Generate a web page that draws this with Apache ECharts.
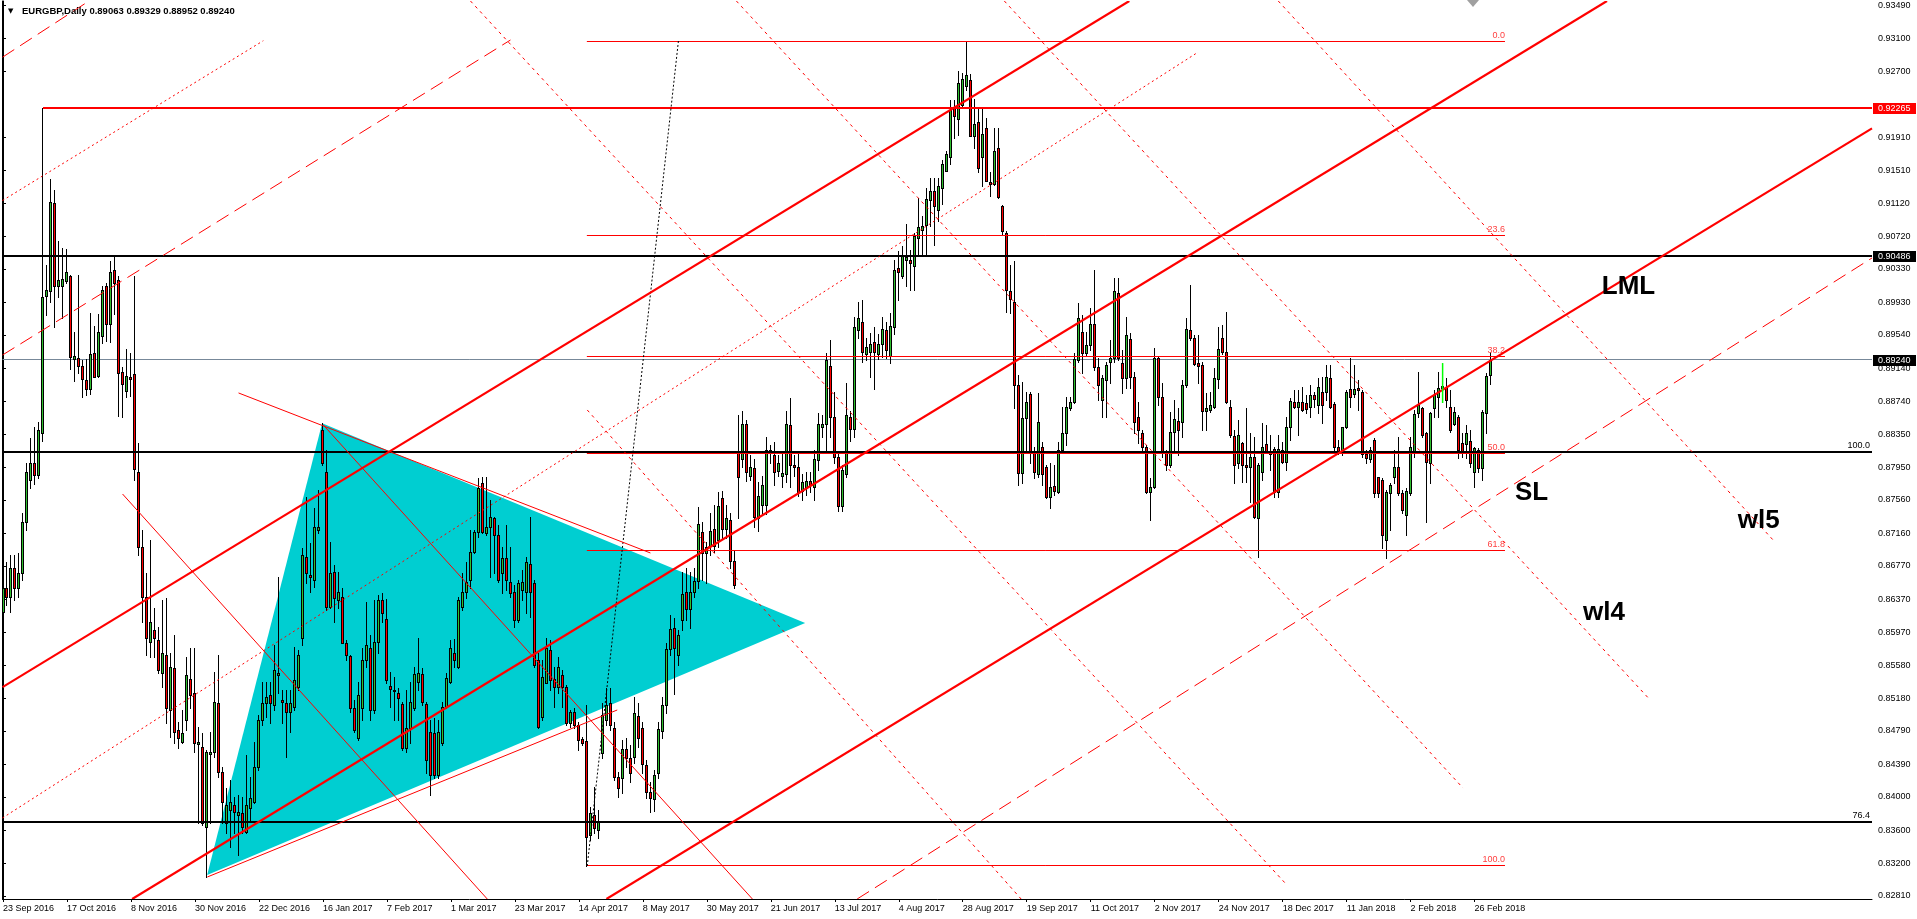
<!DOCTYPE html>
<html><head><meta charset="utf-8">
<script src="https://cdn.jsdelivr.net/npm/echarts@6/dist/echarts.min.js"></script>
<style>html,body{margin:0;padding:0;background:#fff;overflow:hidden}#c{width:1917px;height:919px}</style>
</head><body><div id="c"></div><script>
// ---------- data ----------
const symbol = 'EURGBP', timeframe = 'Daily';
const opens = [
.8622,.8650,.8640,.8674,.8650,.8668,.8730,.8780,.8800,.8786,
.8836,.9000,.9006,.9112,.9012,.9012,.9018,.9024,.8925,.8926,
.8917,.8900,.8889,.8932,.8905,.8953,.9013,.8967,.9032,.9020,
.8909,.8887,.8903,.8907,.8789,.8700,.8640,.8586,.8600,.8588,
.8548,.8570,.8504,.8554,.8480,.8466,.8492,.8541,.8524,.8463,
.8460,.8364,.8451,.8454,.8512,.8430,.8368,.8384,.8390,.8378,
.8380,.8358,.8386,.8394,.8436,.8492,.8512,.8522,.8510,.8546,
.8516,.8512,.8502,.8508,.8532,.8590,.8688,.8666,.8660,.8720,
.8840,.8790,.8628,.8669,.8636,.8640,.8585,.8569,.8506,.8470,
.8506,.8564,.8578,.8504,.8586,.8636,.8613,.8533,.8528,.8524,
.8511,.8458,.8482,.8506,.8538,.8547,.8511,.8478,.8477,.8426,
.8464,.8508,.8538,.8573,.8556,.8628,.8646,.8660,.8694,.8718,
.8776,.8716,.8724,.8734,.8714,.8668,.8686,.8658,.8646,.8612,
.8648,.8646,.8679,.8656,.8564,.8496,.8536,.8576,.8541,.8532,
.8546,.8532,.8488,.8502,.8486,.8469,.8467,.8354,.8378,.8360,
.8452,.8492,.8512,.8482,.8424,.8423,.8457,.8446,.8448,.8497,
.8483,.8438,.8406,.8397,.8428,.8479,.8510,.8577,.8603,.8570,
.8612,.8645,.8625,.8645,.8659,.8717,.8692,.8701,.8721,.8708,
.8758,.8721,.8732,.8683,.8814,.8805,.8847,.8785,.8794,.8734,
.8750,.8750,.8816,.8810,.8791,.8785,.8787,.8846,.8798,.8795,
.8767,.8772,.8779,.8772,.8804,.8843,.8847,.8917,.8856,.8807,
.8749,.8787,.8856,.8841,.8960,.8969,.8931,.8934,.8945,.8931,
.8943,.8960,.8929,.8963,.9034,.9024,.9044,.9044,.9037,.9070,
.9080,.9086,.9116,.9127,.9104,.9130,.9151,.9167,.9227,.9213,
.9230,.9252,.9260,.9193,.9209,.9167,.9202,.9137,.9135,.9178,
.9108,.9076,.9007,.8994,.8894,.8788,.8854,.8883,.8812,.8787,
.8819,.8795,.8760,.8773,.8766,.8816,.8836,.8866,.8874,.8924,
.8958,.8932,.8942,.8967,.8916,.8876,.8900,.8922,.8926,.9004,
.8920,.8902,.8949,.8904,.8856,.8836,.8820,.8765,.8772,.8926,
.8880,.8813,.8798,.8838,.8851,.8849,.8894,.8960,.8950,.8920,
.8918,.8863,.8864,.8867,.8901,.8950,.8933,.8868,.8833,.8800,
.8824,.8798,.8796,.8808,.8734,.8789,.8823,.8811,.8817,.8766,
.8816,.8802,.8844,.8874,.8868,.8873,.8872,.8868,.8882,.8870,
.8886,.8886,.8902,.8871,.8819,.8812,.8843,.8889,.8883,.8890,
.8886,.8811,.8805,.8828,.8783,.8780,.8708,.8764,.8784,.8795,
.8764,.8738,.8764,.8812,.8860,.8866,.8836,.8800,.8866,.8880,
.8890,.8891,.8868,.8847,.8856,.8824,.8823,.8827,.8790,.8816,
.8794,.8860,.89063];
const highs = [
.8668,.8682,.8690,.8690,.8692,.8740,.8800,.8830,.8843,.8850,
.92265,.9038,.9141,.9128,.9066,.9058,.9057,.9026,.8957,.9026,
.8924,.8925,.8980,.8965,.8979,.9012,.9016,.9043,.9048,.9024,
.8915,.8937,.8932,.9025,.8824,.8720,.8668,.8708,.8626,.8604,
.8636,.8638,.8572,.8594,.8490,.8504,.8568,.8578,.8578,.8484,
.8476,.8456,.8478,.8550,.8570,.8436,.8410,.8420,.8400,.8402,
.8400,.8450,.8424,.8466,.8498,.8538,.8538,.8538,.8582,.8664,
.8528,.8528,.8528,.8580,.8576,.8698,.8760,.8704,.8746,.8768,
.8848,.8816,.8706,.8678,.8670,.8650,.8588,.8570,.8516,.8538,
.8578,.8634,.8594,.8636,.8642,.8644,.8637,.8550,.8544,.8530,
.8514,.8528,.8538,.8556,.8590,.8554,.8514,.8492,.8494,.8492,
.8514,.8548,.8588,.8589,.8640,.8668,.8682,.8720,.8720,.8782,
.8784,.8784,.8756,.8736,.8726,.8700,.8726,.8700,.8654,.8660,
.8672,.8688,.8736,.8660,.8572,.8564,.8590,.8588,.8556,.8568,
.8552,.8534,.8504,.8506,.8490,.8472,.8510,.8388,.8412,.8384,
.8512,.8530,.8530,.8490,.8430,.8468,.8470,.8462,.8520,.8512,
.8490,.8444,.8418,.8432,.8490,.8520,.8584,.8618,.8614,.8600,
.8670,.8674,.8670,.8674,.8748,.8730,.8706,.8740,.8750,.8766,
.8767,.8750,.8740,.8696,.8858,.8863,.8852,.8810,.8805,.8778,
.8785,.8832,.8822,.8825,.8810,.8814,.8863,.8878,.8810,.8814,
.8787,.8790,.8790,.8816,.8860,.8858,.8932,.8948,.8885,.8814,
.8798,.8896,.8863,.8976,.8994,.8996,.8950,.8956,.8963,.8955,
.8976,.8970,.8980,.9044,.9054,.9060,.9087,.9056,.9076,.9118,
.9096,.9130,.9142,.9142,.9142,.9164,.9174,.9236,.9236,.9270,
.9268,.9306,.9267,.9237,.9226,.9226,.9214,.9149,.9202,.9202,
.9110,.9078,.9038,.9042,.8906,.8898,.8886,.8886,.8820,.8884,
.8825,.8798,.8800,.8798,.8826,.8868,.8880,.8880,.8932,.8992,
.8978,.8958,.8986,.9032,.8926,.8906,.8922,.8948,.9022,.9022,
.8936,.8976,.8956,.8910,.8874,.8840,.8822,.8782,.8938,.8928,
.8896,.8816,.8862,.8876,.8866,.8900,.8974,.9014,.8954,.8954,
.8922,.8884,.8886,.8914,.8964,.8966,.8982,.8876,.8840,.8852,
.8826,.8866,.8836,.8832,.8800,.8848,.8846,.8834,.8820,.8834,
.8826,.8856,.8878,.8888,.8888,.8891,.8882,.8894,.8886,.8902,
.8904,.8918,.8918,.8874,.8828,.8844,.8888,.8926,.8918,.8900,
.8888,.8816,.8820,.8830,.8784,.8782,.8768,.8776,.8816,.8832,
.8768,.8770,.8832,.8864,.8910,.8868,.8838,.8862,.8888,.8910,
.8905,.8902,.8888,.8868,.8858,.8836,.8846,.8840,.8820,.8818,
.8864,.8908,.89329];
const lows = [
.8600,.8630,.8622,.8636,.8640,.8660,.8720,.8770,.8775,.8782,
.8827,.8978,.8994,.8964,.8999,.8974,.9016,.8913,.8899,.8908,
.8879,.8882,.8883,.8903,.8904,.8944,.8947,.8946,.8979,.8857,
.8856,.8879,.8881,.8780,.8690,.8610,.8570,.8568,.8568,.8548,
.8532,.8488,.8472,.8464,.8458,.8464,.8480,.8506,.8454,.8368,
.8366,.8304,.8368,.8448,.8424,.8368,.8356,.8340,.8356,.8330,
.8356,.8356,.8372,.8392,.8432,.8486,.8496,.8488,.8504,.8524,
.8488,.8448,.8478,.8504,.8528,.8582,.8656,.8646,.8652,.8716,
.8798,.8624,.8626,.8610,.8626,.8584,.8564,.8502,.8478,.8468,
.8492,.8556,.8492,.8500,.8572,.8610,.8536,.8508,.8492,.8492,
.8456,.8454,.8464,.8504,.8528,.8510,.8428,.8402,.8422,.8422,
.8462,.8506,.8536,.8556,.8554,.8624,.8638,.8650,.8692,.8712,
.8716,.8714,.8664,.8668,.8658,.8644,.8648,.8640,.8604,.8610,
.8636,.8620,.8616,.8556,.8482,.8492,.8536,.8528,.8508,.8524,
.8508,.8486,.8484,.8482,.8456,.8462,.8317,.8348,.8356,.8350,
.8446,.8486,.8480,.8420,.8400,.8405,.8436,.8418,.8440,.8460,
.8428,.8398,.8382,.8383,.8422,.8470,.8500,.8570,.8523,.8558,
.8600,.8612,.8602,.8640,.8650,.8660,.8656,.8690,.8694,.8700,
.8710,.8710,.8674,.8650,.8734,.8796,.8779,.8780,.8723,.8719,
.8740,.8739,.8800,.8774,.8785,.8772,.8778,.8772,.8785,.8761,
.8756,.8762,.8765,.8756,.8792,.8832,.8814,.8832,.8800,.8743,
.8743,.8783,.8827,.8832,.8950,.8921,.8924,.8903,.8889,.8925,
.8927,.8926,.8920,.8955,.8996,.9022,.9012,.9008,.9008,.9050,
.9050,.9050,.9084,.9062,.9090,.9111,.9150,.9159,.9190,.9194,
.9228,.9248,.9192,.9178,.9149,.9132,.9138,.9121,.9134,.9118,
.9074,.8982,.8980,.8866,.8774,.8776,.8816,.8800,.8782,.8784,
.8774,.8758,.8746,.8762,.8764,.8814,.8822,.8864,.8872,.8922,
.8908,.8930,.8936,.8912,.8876,.8856,.8856,.8896,.8922,.8924,
.8884,.8890,.8890,.8836,.8824,.8816,.8764,.8732,.8770,.8870,
.8808,.8792,.8796,.8812,.8810,.8832,.8892,.8948,.8918,.8896,
.8840,.8840,.8862,.8866,.8890,.8931,.8872,.8832,.8776,.8794,
.8778,.8778,.8754,.8734,.8688,.8780,.8812,.8792,.8760,.8760,
.8800,.8792,.8828,.8866,.8834,.8863,.8860,.8856,.8868,.8860,
.8848,.8876,.8866,.8816,.8811,.8810,.8842,.8868,.8880,.8864,
.8808,.8800,.8802,.8760,.8760,.8698,.8686,.8720,.8776,.8762,
.8740,.8714,.8762,.8808,.8856,.8832,.8730,.8776,.8856,.8856,
.8880,.8868,.8838,.8846,.8806,.8808,.8806,.8796,.8772,.8790,
.8780,.8836,.88952];
const closes = [
.8650,.8640,.8674,.8650,.8668,.8730,.8790,.8800,.8786,.8840,
.8999,.9008,.9113,.9012,.9020,.9021,.9029,.8928,.8929,.8917,
.8901,.8889,.8931,.8904,.8957,.9008,.8967,.9029,.9016,.8908,
.8895,.8905,.8901,.8793,.8700,.8640,.8590,.8610,.8590,.8552,
.8572,.8506,.8556,.8478,.8470,.8476,.8546,.8522,.8464,.8466,
.8368,.8454,.8454,.8514,.8430,.8394,.8390,.8394,.8382,.8382,
.8364,.8390,.8398,.8436,.8492,.8512,.8520,.8512,.8552,.8548,
.8514,.8502,.8512,.8540,.8570,.8690,.8668,.8664,.8724,.8724,
.8800,.8628,.8668,.8638,.8646,.8585,.8570,.8506,.8480,.8522,
.8564,.8582,.8504,.8586,.8636,.8620,.8540,.8529,.8527,.8518,
.8458,.8482,.8514,.8547,.8548,.8514,.8444,.8426,.8426,.8478,
.8508,.8542,.8578,.8564,.8636,.8646,.8658,.8694,.8718,.8770,
.8718,.8724,.8736,.8714,.8660,.8686,.8660,.8644,.8612,.8656,
.8658,.8682,.8646,.8558,.8484,.8544,.8578,.8540,.8532,.8556,
.8532,.8488,.8502,.8486,.8468,.8464,.8352,.8380,.8362,.8370,
.8498,.8510,.8486,.8424,.8410,.8457,.8446,.8428,.8500,.8470,
.8439,.8406,.8399,.8426,.8481,.8510,.8577,.8601,.8579,.8594,
.8643,.8625,.8645,.8659,.8727,.8692,.8699,.8719,.8701,.8749,
.8721,.8734,.8683,.8654,.8783,.8847,.8789,.8796,.8736,.8761,
.8774,.8816,.8812,.8790,.8800,.8788,.8847,.8798,.8795,.8765,
.8778,.8779,.8774,.8805,.8847,.8847,.8924,.8856,.8807,.8749,
.8792,.8858,.8841,.8964,.8974,.8934,.8940,.8943,.8933,.8943,
.8961,.8936,.8965,.9032,.9029,.9050,.9047,.9040,.9072,.9083,
.9084,.9117,.9127,.9109,.9132,.9159,.9171,.9224,.9216,.9256,
.9261,.9266,.9193,.9207,.9154,.9195,.9139,.9135,.9174,.9119,
.9078,.9008,.8997,.8894,.8788,.8854,.8874,.8812,.8790,.8849,
.8787,.8760,.8772,.8767,.8816,.8836,.8868,.8874,.8925,.8974,
.8932,.8942,.8967,.8916,.8894,.8902,.8918,.8926,.9006,.8926,
.8902,.8954,.8904,.8850,.8840,.8820,.8765,.8772,.8926,.8880,
.8812,.8798,.8838,.8853,.8840,.8894,.8961,.8950,.8919,.8917,
.8863,.8866,.8870,.8902,.8937,.8933,.8874,.8834,.8798,.8834,
.8798,.8796,.8808,.8736,.8798,.8820,.8815,.8813,.8766,.8817,
.8802,.8844,.8875,.8868,.8874,.8864,.8865,.8882,.8877,.8891,
.8870,.8903,.8868,.8819,.8812,.8843,.8886,.8880,.8889,.8888,
.8811,.8806,.8816,.8764,.8764,.8714,.8766,.8774,.8795,.8764,
.8744,.8767,.8820,.8859,.8870,.8834,.8802,.8860,.8882,.8890,
.8893,.8876,.8840,.8861,.8816,.8812,.8836,.8800,.8818,.8794,
.8861,.8905,.89240];

const dateLabels = ['23 Sep 2016','17 Oct 2016','8 Nov 2016','30 Nov 2016','22 Dec 2016','16 Jan 2017','7 Feb 2017','1 Mar 2017','23 Mar 2017','14 Apr 2017','8 May 2017','30 May 2017','21 Jun 2017','13 Jul 2017','4 Aug 2017','28 Aug 2017','19 Sep 2017','11 Oct 2017','2 Nov 2017','24 Nov 2017','18 Dec 2017','11 Jan 2018','2 Feb 2018','26 Feb 2018'];
const dateTickBars = [0,16,32,48,64,80,96,112,128,144,160,176,192,208,224,240,256,272,288,304,320,336,352,368];
const priceTicks = [0.93490,0.93100,0.92700,0.91910,0.91510,0.91120,0.90720,0.90330,0.89930,0.89540,0.89140,0.88740,0.88350,0.87950,0.87560,0.87160,0.86770,0.86370,0.85970,0.85580,0.85180,0.84790,0.84390,0.84000,0.83600,0.83200,0.82810];

// drawn objects, in chart units: [bar, price, bar, price]
const channelLines = [
  [-0.125, 0.85315, 281.65, 0.93544],
  [32.3, 0.82774, 401.1, 0.93544],
  [150.9, 0.82774, 467.375, 0.92016]
];
const longDashLines = [
  [-0.125, 0.92870, 21.5, 0.93544],
  [-0.125, 0.89298, 126.9, 0.93076],
  [213.6, 0.82774, 467.375, 0.90462]
];
const dotRiseLines = [
  [-0.125, 0.91151, 65.1, 0.93068],
  [-0.125, 0.83746, 298.9, 0.92932]
];
const dotFallLines = [
  [116.9, 0.93544, 320.6, 0.82966],
  [183.4, 0.93544, 365.1, 0.84105],
  [250.4, 0.93544, 411.9, 0.85161],
  [318.9, 0.93544, 443.1, 0.87056],
  [146.1, 0.88639, 254.6, 0.82774]
];
const thinLines = [
  [58.9, 0.88843, 161.9, 0.86924],
  [51.1, 0.83038, 153.6, 0.85041],
  [80.1, 0.88459, 187.4, 0.82774],
  [29.9, 0.87631, 121.1, 0.82774]
];
const triangle = [79.8, 0.88479, 51.05, 0.83062, 200.6, 0.86084];
const redLevels = [[10, 467.375, 0.92265]];
const blackLevels = [[-0.125, 467.375, 0.90486],[-0.125, 467.375, 0.88139],[-0.125, 467.375, 0.83694]];
const blackLevelLabels = [['100.0', 0.88139],['76.4', 0.83694]];
const fibLabels = ['0.0','23.6','38.2','50.0','61.8','100.0'];
const fibPrices = [0.93064, 0.90729, 0.89284, 0.88117, 0.86949, 0.83170];
const fibRange = [146, 375.6];
const fibTrend = [[146.1, 0.83170, 168.9, 0.93064]];
const greenMarker = [[360, 0.89202, 360, 0.88723]];
const shiftMarkBar = 367.6;
const notes = [['LML', 399.8, 0.90117],['SL', 378.1, 0.87640],['wl5', 433.8, 0.87313],['wl4', 395.1, 0.86210]];
const priceBoxValues = [0.92265, 0.90486, closes[closes.length-1]];
const priceBoxColors = ['#ff0000', '#000000', '#000000'];

// ---------- chart ----------
const X_MIN = -0.125, X_MAX = 467.375, Y_MIN = 0.82774, Y_MAX = 0.93544;
const FONT = "'Liberation Sans', Arial, sans-serif";
const GREEN = '#2fbf2f', RED = '#ff0000';

function segSeries(segs, color, width, dash, crispH) {
  return {
    type: 'custom', coordinateSystem: 'cartesian2d', clip: true, silent: true,
    data: segs, encode: {x: [0, 2], y: [1, 3]},
    renderItem(params, api) {
      const a = api.coord([api.value(0), api.value(1)]);
      const b = api.coord([api.value(2), api.value(3)]);
      let y1 = a[1], y2 = b[1];
      if (crispH) { const y = width % 2 ? Math.floor(y1) + 0.5 : Math.round(y1); y1 = y; y2 = y; }
      return {type: 'line', shape: {x1: a[0], y1: y1, x2: b[0], y2: y2},
        style: {stroke: color, lineWidth: width, lineDash: dash || null}};
    }
  };
}
const hSeg = lv => lv.map(r => [r[0], r[2], r[1], r[2]]);

const candleData = opens.map((o, i) => [i, o, closes[i], lows[i], highs[i]]);
const last = opens.length - 1;

const option = {
  animation: false,
  backgroundColor: '#ffffff',
  title: {
    left: 3, top: 1,
    text: '{a|▼}{b|' + symbol + ',' + timeframe + ' ' + [opens[last], highs[last], lows[last], closes[last]].map(v => v.toFixed(5)).join(' ') + '}',
    textStyle: {rich: {
      a: {fontSize: 7, width: 14, color: '#000', fontFamily: 'DejaVu Sans'},
      b: {fontSize: 9.5, color: '#000', fontFamily: FONT}
    }}
  },
  grid: {left: 2, right: 45, top: 1, bottom: 20},
  xAxis: {
    type: 'value', min: X_MIN, max: X_MAX,
    splitLine: {show: false},
    axisLine: {show: true, lineStyle: {color: '#000', width: 1}},
    axisTick: {show: true, customValues: dateTickBars, length: 3, lineStyle: {color: '#000'}},
    axisLabel: {customValues: dateTickBars, align: 'left', margin: 5, color: '#000', fontSize: 9, fontFamily: FONT,
      formatter: v => dateLabels[dateTickBars.indexOf(Math.round(v))] || ''}
  },
  yAxis: [{
    type: 'value', position: 'right', min: Y_MIN, max: Y_MAX, scale: true,
    splitLine: {show: false},
    axisLine: {show: true, lineStyle: {color: '#000', width: 1}},
    axisTick: {show: true, customValues: priceTicks, length: 3, lineStyle: {color: '#000'}},
    axisLabel: {customValues: priceTicks, margin: 6, color: '#000', fontSize: 9, fontFamily: FONT,
      formatter: v => v.toFixed(5)}
  }, {
    type: 'value', position: 'left', min: Y_MIN, max: Y_MAX, scale: true,
    splitLine: {show: false}, axisTick: {show: false}, axisLabel: {show: false},
    axisLine: {show: true, lineStyle: {color: '#000', width: 1}}
  }],
  series: [
    // cyan triangle
    {
      type: 'custom', silent: true, clip: true, data: [triangle], encode: {x: [0, 2, 4], y: [1, 3, 5]},
      renderItem(params, api) {
        const pts = [0, 2, 4].map(k => api.coord([api.value(k), api.value(k + 1)]));
        return {type: 'polygon', shape: {points: pts}, style: {fill: '#00ced1'}};
      }
    },
    // bid line
    segSeries([[X_MIN, closes[last], X_MAX, closes[last]]], '#778899', 1, null, true),
    // candles
    {
      type: 'custom', silent: true, clip: true, data: candleData, encode: {x: 0, y: [1, 2, 3, 4]},
      renderItem(params, api) {
        const i = api.value(0), o = api.value(1), c = api.value(2), l = api.value(3), h = api.value(4);
        const pO = api.coord([i, o]), pC = api.coord([i, c]), pL = api.coord([i, l]), pH = api.coord([i, h]);
        const cx = Math.floor(pO[0]) + 0.5;
        const top = Math.round(Math.min(pO[1], pC[1])), bot = Math.round(Math.max(pO[1], pC[1]));
        const hgt = Math.max(bot - top, 1);
        const ch = [
          {type: 'line', shape: {x1: cx, y1: Math.round(pH[1]), x2: cx, y2: Math.round(pL[1]) + 1}, style: {stroke: '#000', lineWidth: 1}},
          {type: 'rect', shape: {x: cx - 1.5, y: top, width: 3, height: hgt + 1}, style: {fill: '#000'}}
        ];
        if (hgt > 1) ch.push({type: 'rect', shape: {x: cx - 0.5, y: top + 1, width: 1, height: hgt - 1}, style: {fill: c >= o ? GREEN : RED}});
        return {type: 'group', children: ch};
      }
    },
    segSeries(hSeg(blackLevels), '#000000', 2, null, true),
    segSeries(hSeg(redLevels), '#ff0000', 2, null, true),
    // fibonacci levels
    {
      type: 'custom', silent: true, clip: true,
      data: fibPrices.map((p, k) => [fibRange[0], p, fibRange[1], k]), encode: {x: [0, 2], y: 1},
      renderItem(params, api) {
        const a = api.coord([api.value(0), api.value(1)]), b = api.coord([api.value(2), api.value(1)]);
        const y = Math.floor(a[1]) + 0.5;
        return {type: 'group', children: [
          {type: 'line', shape: {x1: a[0], y1: y, x2: b[0], y2: y}, style: {stroke: '#ff0000', lineWidth: 1}},
          {type: 'text', style: {text: fibLabels[api.value(3)], x: b[0], y: y - 1.5, align: 'right', verticalAlign: 'bottom',
            fill: '#ff4040', fontSize: 9, fontFamily: FONT}}
        ]};
      }
    },
    segSeries(fibTrend, '#000000', 1, [2, 2]),
    segSeries(dotFallLines, '#ff0000', 1, [3, 4]),
    segSeries(dotRiseLines, '#ff0000', 1, [2, 3]),
    segSeries(longDashLines, '#ff0000', 1, [14, 7]),
    segSeries(thinLines, '#ff0000', 1, null),
    segSeries(channelLines, '#ff0000', 2.2, null),
    segSeries(greenMarker, '#00ff00', 1.5, null),
    // chart shift marker at the top
    {
      type: 'custom', silent: true, clip: false, data: [[shiftMarkBar, Y_MAX]], encode: {x: 0, y: 1},
      renderItem(params, api) {
        const a = api.coord([api.value(0), api.value(1)]);
        return {type: 'polygon', shape: {points: [[a[0] - 6, a[1] - 1], [a[0] + 6, a[1] - 1], [a[0], a[1] + 6]]}, style: {fill: '#a0a0a0'}};
      }
    },
    // black level labels
    {
      type: 'custom', silent: true, clip: false,
      data: blackLevelLabels.map((r, k) => [X_MAX, r[1], k]), encode: {x: 0, y: 1},
      renderItem(params, api) {
        const a = api.coord([api.value(0), api.value(1)]);
        return {type: 'text', style: {text: blackLevelLabels[api.value(2)][0], x: a[0] - 2, y: Math.round(a[1]) - 1.5,
          align: 'right', verticalAlign: 'bottom', fill: '#000', fontSize: 9, fontFamily: FONT}};
      }
    },
    // annotations
    {
      type: 'custom', silent: true, clip: false,
      data: notes.map((r, k) => [r[1], r[2], k]), encode: {x: 0, y: 1},
      renderItem(params, api) {
        const a = api.coord([api.value(0), api.value(1)]);
        return {type: 'text', style: {text: notes[api.value(2)][0], x: a[0], y: a[1], align: 'left', verticalAlign: 'middle',
          fill: '#000', fontSize: 26, fontWeight: 'bold', fontFamily: FONT}};
      }
    },
    // price boxes on the axis
    {
      type: 'custom', silent: true, clip: false,
      data: priceBoxValues.map((p, k) => [X_MAX, p, k]), encode: {x: 0, y: 1},
      renderItem(params, api) {
        const a = api.coord([api.value(0), api.value(1)]);
        const k = api.value(2);
        const y = Math.round(a[1]);
        return {type: 'group', children: [
          {type: 'rect', shape: {x: a[0] + 1, y: y - 5, width: 43, height: 11}, style: {fill: priceBoxColors[k]}},
          {type: 'text', style: {text: priceBoxValues[k].toFixed(5), x: a[0] + 6, y: y + 0.5, align: 'left', verticalAlign: 'middle',
            fill: '#fff', fontSize: 9, fontFamily: FONT}}
        ]};
      }
    }
  ]
};
const chart = echarts.init(document.getElementById('c'), null, {renderer: 'canvas'});
chart.setOption(option);
</script></body></html>
